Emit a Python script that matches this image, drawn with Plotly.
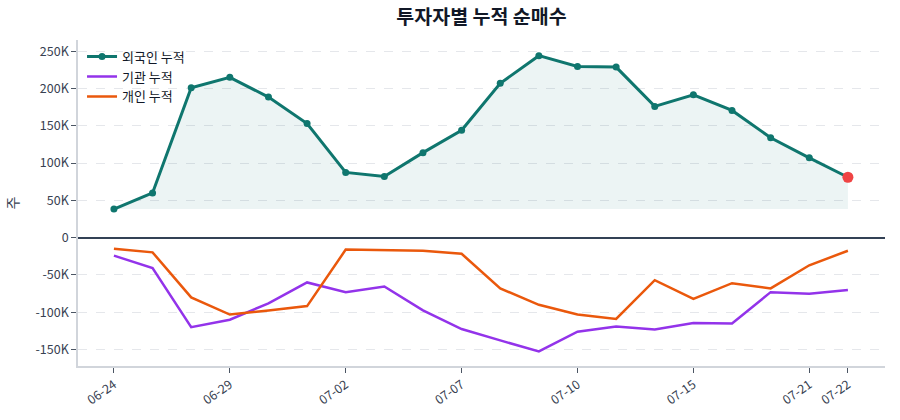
import plotly.graph_objects as go

dates = ["06-24", "06-25", "06-26", "06-29", "06-30", "07-01", "07-02", "07-03", "07-06", "07-07",
         "07-08", "07-09", "07-10", "07-13", "07-14", "07-15", "07-16", "07-17", "07-21", "07-22"]
tick_dates = ["06-24", "06-29", "07-02", "07-07", "07-10", "07-15", "07-21", "07-22"]

foreign = [38300, 60000, 201000, 215000, 188500, 153000, 87500, 82000, 114000, 144000,
           207000, 244000, 229600, 228700, 176000, 191600, 170600, 134000, 107000, 81000]
institution = [-24000, -40700, -120000, -110000, -88000, -60000, -73000, -65500, -97500, -122500,
               -137700, -152400, -126000, -119000, -123000, -114500, -115000, -73000, -75000, -70000]
individual = [-14700, -19700, -80000, -103000, -97500, -91700, -16000, -17000, -17400, -21500,
              -68000, -90000, -103000, -109000, -57000, -82000, -61000, -68000, -37000, -17500]

TEAL = "#0f766e"
PURPLE = "#9333ea"
ORANGE = "#ea580c"
FONT = "Noto Sans CJK KR"

base = min(foreign)

fig = go.Figure()
fig.add_trace(go.Scatter(x=dates, y=foreign, mode="lines", line=dict(width=0),
                         showlegend=False, hoverinfo="skip"))
fig.add_trace(go.Scatter(x=dates, y=[base] * len(dates), mode="lines", line=dict(width=0),
                         showlegend=False, hoverinfo="skip",
                         fill="tonexty", fillcolor="rgba(15,118,110,0.08)"))
fig.add_trace(go.Scatter(x=dates, y=foreign, mode="lines+markers", name="외국인 누적",
                         line=dict(color=TEAL, width=3), marker=dict(size=7, color=TEAL)))
fig.add_trace(go.Scatter(x=dates, y=institution, mode="lines", name="기관 누적",
                         line=dict(color=PURPLE, width=2.5)))
fig.add_trace(go.Scatter(x=dates, y=individual, mode="lines", name="개인 누적",
                         line=dict(color=ORANGE, width=2.5)))
fig.add_trace(go.Scatter(x=[dates[-1]], y=[foreign[-1]], mode="markers", showlegend=False,
                         marker=dict(size=11, color="#ef4444")))

fig.update_layout(
    width=900, height=420,
    margin=dict(l=78, r=15, t=40, b=54),
    paper_bgcolor="white", plot_bgcolor="white",
    font=dict(family=FONT, size=12, color="#4b5563"),
    title=dict(text="<b>투자자별 누적 순매수</b>", xref="paper", x=0.5, xanchor="center",
               y=0.975, yanchor="top",
               font=dict(family=FONT, size=19.5, color="#111827")),
    showlegend=True,
    legend=dict(x=0.005, y=0.995, xanchor="left", yanchor="top", bgcolor="rgba(255,255,255,0)",
                traceorder="normal",
                font=dict(family=FONT, size=13, color="#111827"), tracegroupgap=0, itemwidth=30),
    xaxis=dict(type="category", range=[-0.93, 19.96], tickmode="array", tickvals=tick_dates,
               ticktext=tick_dates, tickangle=-35, showgrid=False, showline=True,
               linecolor="#d1d5db", linewidth=1.5, ticks="outside", ticklen=5, tickcolor="#4b5563",
               tickfont=dict(size=12.5, color="#374151")),
    yaxis=dict(range=[-172000, 265000], tickvals=[-150000, -100000, -50000, 0, 50000, 100000, 150000, 200000, 250000],
               ticktext=["-150K", "-100K", "-50K", "0", "50K", "100K", "150K", "200K", "250K"],
               showgrid=True, gridcolor="#e5e7eb", griddash="dash", gridwidth=1,
               zeroline=True, zerolinecolor="#334155", zerolinewidth=1.5,
               showline=True, linecolor="#d1d5db", linewidth=1.5, ticks="outside", ticklen=5,
               tickcolor="#4b5563", tickfont=dict(size=12.5, color="#374151"),
               title=dict(text="주", font=dict(size=14, color="#374151"), standoff=14)),
)

fig.write_html("out.html")
